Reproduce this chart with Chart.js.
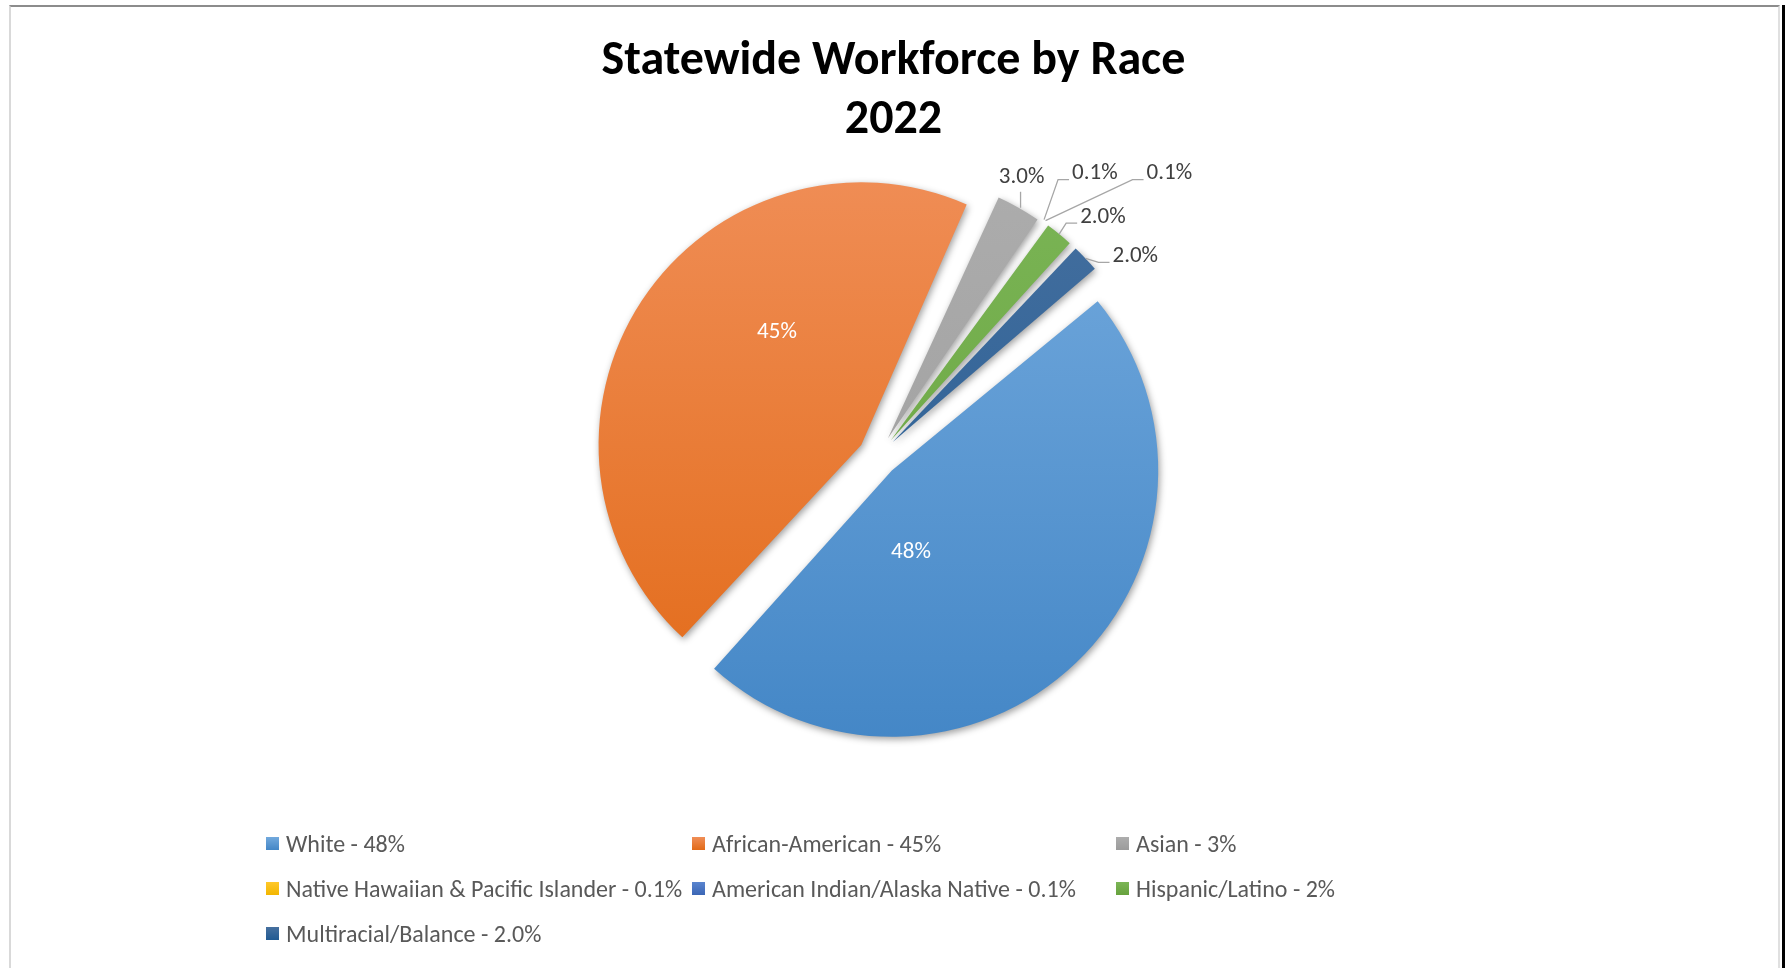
<!DOCTYPE html>
<html>
<head>
<meta charset="utf-8">
<title>Statewide Workforce by Race 2022</title>
<script src="https://cdn.jsdelivr.net/npm/chart.js@4.4.1/dist/chart.umd.min.js"></script>
<style>
    html, body { margin: 0; padding: 0; background: #fff; }
    body { width: 1787px; height: 968px; position: relative; overflow: hidden; font-family: Calibri, Lato, sans-serif; }
    .frame {
        position: absolute; left: 9px; top: 5px; width: 1771px; height: 990px;
        box-sizing: border-box; background: #fff;
        border-top: 2px solid #8c8c8c; border-left: 2px solid #d9d9d9; border-right: 2px solid #e0e0e0;
        box-shadow: 2px 0 0 #fff, 5px 0 0 #000;
    }
    #chart { position: absolute; left: 0; top: 0; }
    .title {
        position: absolute; left: 0; top: 28px; width: 1787px;
        text-align: center; font-weight: bold; font-size: 48px; line-height: 59px; color: #000;
    }
    .legend-item {
        position: absolute; display: flex; align-items: center;
        white-space: nowrap; font-size: 24px; color: #595959;
    }
    .legend-item .swatch { width: 13px; height: 13px; margin-right: 7px; }
</style>
</head>
<body>
<div class="frame"></div>
<canvas id="chart" width="1787" height="968"></canvas>
<div class="title">Statewide Workforce by Race<br>2022</div>
<div id="legend"></div>

<script>
// Workforce share by race, percent
const categories = [
    'White - 48%',
    'African-American - 45%',
    'Asian - 3%',
    'Native Hawaiian & Pacific Islander - 0.1%',
    'American Indian/Alaska Native - 0.1%',
    'Hispanic/Latino - 2%',
    'Multiracial/Balance - 2.0%'
];
const shares = [48, 45, 3.0, 0.1, 0.1, 2.0, 2.0];

// light (top) and dark (bottom) end of each slice's fill
const sliceTop = ['#72a9dd', '#f08e57', '#adadad', '#ffc82a', '#5a85cf', '#7bb556', '#46709f'];
const sliceBottom = ['#4386c6', '#e26a17', '#9b9b9b', '#f2b600', '#3b66b5', '#67a23d', '#215a92'];

// where each data label goes: inside = turned from the slice's middle (deg) at a share of the radius,
// otherwise offset of the text from the point where its leader meets the rim
const labelSpots = [
    { inside: true, turn: 30.6, frac: 0.315 },
    { inside: true, turn: 20, frac: 0.537 },
    { above: true, dx: 3, dy: -31 },
    { dx: 28, dy: -46 },
    { dx: 101, dy: -47 },
    { dx: 21, dy: -17 },
    { dx: 27, dy: -2 }
];

const FONT = 'Calibri, Lato, sans-serif';

function sliceFill(context) {
    const chart = context.chart;
    const area = chart.chartArea;
    const i = context.dataIndex;
    if (!area || i === undefined) return sliceBottom[i || 0];
    const g = chart.ctx.createLinearGradient(0, area.top, 0, area.bottom);
    g.addColorStop(0, sliceTop[i]);
    g.addColorStop(1, sliceBottom[i]);
    return g;
}

// soft shadow under the slices, then the percentage labels with leader lines
const pieDecor = {
    id: 'pieDecor',
    beforeDatasetsDraw(chart) {
        const ctx = chart.ctx;
        ctx.save();
        ctx.shadowColor = 'rgba(0, 0, 0, 0.38)';
        ctx.shadowBlur = 7;
        ctx.shadowOffsetX = 1.5;
        ctx.shadowOffsetY = 2.5;
    },
    afterDatasetsDraw(chart) {
        const ctx = chart.ctx;
        ctx.restore();

        const meta = chart.getDatasetMeta(0);
        ctx.save();
        ctx.font = '23px ' + FONT;
        ctx.textBaseline = 'middle';
        meta.data.forEach((arc, i) => {
            const spot = labelSpots[i];
            const p = arc.getProps(['x', 'y', 'startAngle', 'endAngle', 'outerRadius', 'circumference'], true);
            const mid = (p.startAngle + p.endAngle) / 2;
            // same shift and radius fix the arc element uses for exploded slices
            const shift = (arc.options.offset || 0) / 4;
            const cx = p.x + Math.cos(mid) * shift;
            const cy = p.y + Math.sin(mid) * shift;
            const r = p.outerRadius + shift * (1 - Math.sin(Math.min(Math.PI, p.circumference)));

            if (spot.inside) {
                const a = mid + spot.turn * Math.PI / 180;
                ctx.fillStyle = '#ffffff';
                ctx.textAlign = 'center';
                ctx.fillText(shares[i].toFixed(0) + '%', cx + Math.cos(a) * r * spot.frac, cy + Math.sin(a) * r * spot.frac);
                return;
            }

            const ax = cx + Math.cos(mid) * r;
            const ay = cy + Math.sin(mid) * r;
            const text = shares[i].toFixed(1) + '%';
            ctx.strokeStyle = '#a6a6a6';
            ctx.lineWidth = 1.3;
            ctx.fillStyle = '#404040';
            ctx.beginPath();
            if (spot.above) {
                const tx = ax + spot.dx;
                const ty = ay + spot.dy;
                ctx.moveTo(ax + 2, ay);
                ctx.lineTo(ax + 2, ty + 15);
                ctx.stroke();
                ctx.textAlign = 'center';
                ctx.fillText(text, tx, ty);
            } else {
                const left = ax + spot.dx;
                const ty = ay + spot.dy;
                ctx.moveTo(ax, ay);
                ctx.lineTo(left - 14, ty + 6);
                ctx.lineTo(left - 3, ty + 6);
                ctx.stroke();
                ctx.textAlign = 'left';
                ctx.fillText(text, left, ty);
            }
        });
        ctx.restore();
    }
};

new Chart(document.getElementById('chart'), {
    type: 'pie',
    data: {
        labels: categories,
        datasets: [{
            data: shares,
            backgroundColor: sliceFill,
            borderWidth: 0,
            offset: 80
        }]
    },
    options: {
        responsive: false,
        animation: false,
        events: [],
        rotation: 50,
        radius: 249,
        layout: { padding: { left: 593, right: 624, top: 171, bottom: 227 } },
        plugins: {
            legend: { display: false },
            title: { display: false },
            tooltip: { enabled: false }
        }
    },
    plugins: [pieDecor]
});

// legend laid out in three columns
const legendCols = [266, 692, 1116];
const legendRows = [844, 889, 934];
const legend = document.getElementById('legend');
categories.forEach((name, i) => {
    const item = document.createElement('div');
    item.className = 'legend-item';
    item.style.left = legendCols[i % 3] + 'px';
    item.style.top = (legendRows[Math.floor(i / 3)] - 15) + 'px';
    item.innerHTML = `<span class="swatch" style="background: linear-gradient(${sliceTop[i]}, ${sliceBottom[i]})"></span>`;
    item.appendChild(document.createTextNode(name));
    legend.appendChild(item);
});
</script>
</body>
</html>
